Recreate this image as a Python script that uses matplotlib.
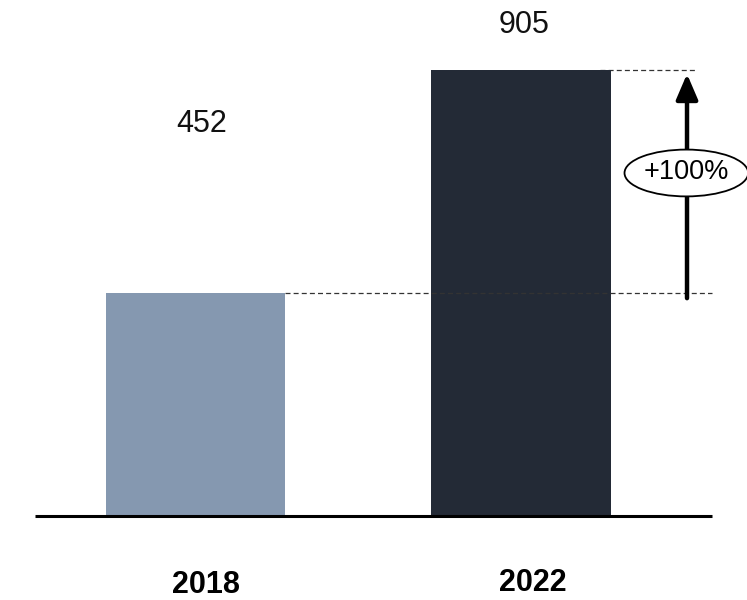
import matplotlib
matplotlib.use("Agg")
import matplotlib.pyplot as plt
from matplotlib.patches import Ellipse

categories = ["2018", "2022"]
values = [452, 905]
growth_label = "+100%"
colors = ["#8598B0", "#232A36"]

fig = plt.figure(figsize=(7.47, 6.0), dpi=100)
ax = fig.add_axes([0, 0, 1, 1])
ax.set_xlim(-0.6006, 1.6943)
ax.set_ylim(-170.4, 1047)
ax.axis("off")

x = list(range(len(categories)))
bw = 0.55
ax.bar(x, values, width=bw, color=colors, zorder=2)

# baseline
ax.plot([-0.493, 1.587], [0, 0], color="black", lw=2.2, zorder=3, solid_capstyle="butt")

font = ["Liberation Sans", "DejaVu Sans"]
# value labels (placed high above bars as in reference)
label_y = [795, 996]
label_dx = [0.02, 0.008]
for xi, v, ly, dx in zip(x, values, label_y, label_dx):
    ax.text(xi + dx, ly, f"{v}", ha="center", va="center", fontsize=22,
            family=font, color="#111111")

# category labels
year_y = [-140, -135]
year_dx = [0.032, 0.035]
for xi, c, yy, dx in zip(x, categories, year_y, year_dx):
    ax.text(xi + dx, yy, c, ha="center", va="center", fontsize=22,
            fontweight="bold", family=font, color="black")

# dashed reference lines
ax.plot([x[0] + bw / 2, 1.587], [values[0], values[0]], ls=(0, (4, 2.5)),
        color="#333333", lw=0.9, zorder=3)
ax.plot([x[1] + bw / 2 - 0.032, 1.538], [values[1], values[1]], ls=(0, (4, 2.5)),
        color="#333333", lw=0.9, zorder=1)

# arrow
ax_x = 1.51
ax.annotate("", xy=(ax_x, values[1] - 8), xytext=(ax_x, values[0] - 10),
            arrowprops=dict(arrowstyle="-|>,head_length=0.7,head_width=0.3",
                            lw=3.2, color="black", shrinkA=0, shrinkB=0,
                            mutation_scale=22), zorder=4)

# ellipse label
ell = Ellipse((1.508, 696), 0.38, 95, facecolor="white", edgecolor="black",
              lw=1.3, zorder=5)
ax.add_patch(ell)
ax.text(1.508, 698, growth_label, ha="center", va="center", fontsize=19.5,
        family=font, color="black", zorder=6)

fig.savefig("out.png", dpi=100)
